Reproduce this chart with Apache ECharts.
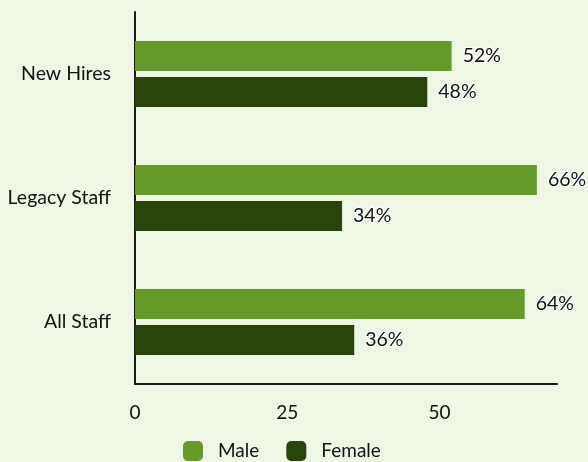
<!DOCTYPE html>
<html>
<head>
<meta charset="utf-8">
<script src="https://cdn.jsdelivr.net/npm/echarts@6/dist/echarts.min.js"></script>
<style>
  html, body { margin: 0; padding: 0; background: #eef6e4; }
  #chart { width: 588px; height: 462px; }
</style>
</head>
<body>
<div id="chart"></div>
<script>
// Staff groups, bottom to top on the category axis
const categories = ['All Staff', 'Legacy Staff', 'New Hires'];
const maleShare = [64, 66, 52];
const femaleShare = [36, 34, 48];
const xTicks = [0, 25, 50];

const labelStyle = {
  show: true,
  position: 'right',
  distance: 11,
  formatter: '{c}%',
  fontFamily: 'Lato',
  fontSize: 19.5,
  color: '#111',
  textBorderColor: '#ffffff',
  textBorderWidth: 2
};

const chart = echarts.init(document.getElementById('chart'));
chart.setOption({
  backgroundColor: '#eef6e4',
  textStyle: { fontFamily: 'Lato' },
  grid: { left: 135, right: 31, top: 12, bottom: 78 },
  xAxis: {
    type: 'value',
    min: 0,
    max: 69.3,
    interval: 25,
    splitLine: { show: false },
    axisLine: { show: true, lineStyle: { color: '#1a1a1a', width: 2 } },
    axisTick: { show: false },
    axisLabel: {
      fontFamily: 'Lato', fontSize: 19, color: '#111', margin: 19,
      formatter: v => (xTicks.includes(v) ? String(v) : '')
    }
  },
  yAxis: {
    type: 'category',
    data: categories,
    axisLine: { show: true, lineStyle: { color: '#1a1a1a', width: 2 } },
    axisTick: { show: false },
    axisLabel: { fontFamily: 'Lato', fontSize: 19.5, color: '#111', margin: 24 }
  },
  legend: {
    top: 441,
    left: 183,
    padding: 0,
    itemWidth: 20,
    itemHeight: 20,
    itemGap: 27,
    icon: 'roundRect',
    textStyle: { fontFamily: 'Lato', fontSize: 19, color: '#111', padding: [0, 0, 0, 10] },
    data: ['Male', 'Female']
  },
  series: [
    {
      name: 'Male', type: 'bar', data: maleShare,
      barWidth: 30, barGap: '20%',
      itemStyle: { color: '#669a28' },
      label: labelStyle
    },
    {
      name: 'Female', type: 'bar', data: femaleShare,
      barWidth: 30,
      itemStyle: { color: '#28440a' },
      label: labelStyle
    }
  ]
});
</script>
</body>
</html>
